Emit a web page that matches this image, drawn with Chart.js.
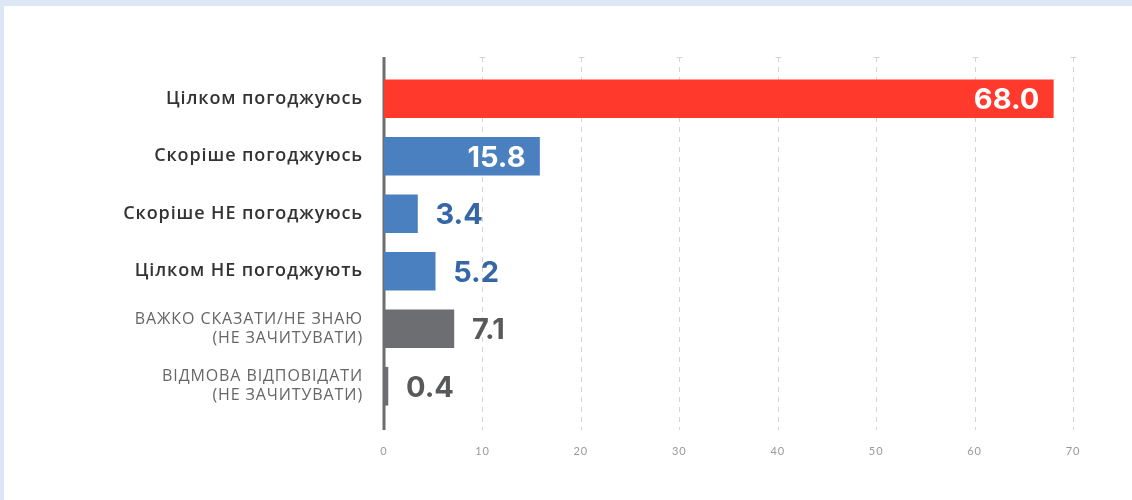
<!DOCTYPE html>
<html>
<head>
<meta charset="utf-8">
<script src="https://cdn.jsdelivr.net/npm/chart.js@4"></script>
<style>
  html, body { margin: 0; padding: 0; }
  body { width: 1132px; height: 500px; background: #dde6f4; position: relative; overflow: hidden; }
  .panel { position: absolute; left: 4px; top: 6px; width: 1140px; height: 510px; background: #fff; }
  .wrap { position: absolute; left: 0; top: 0; width: 1132px; height: 500px; }
</style>
</head>
<body>
<div class="panel"></div>
<div class="wrap"><canvas id="chart"></canvas></div>
<script>
// --- DATA ---
const categories = [
    'Цілком погоджуюсь',
    'Скоріше погоджуюсь',
    'Скоріше НЕ погоджуюсь',
    'Цілком НЕ погоджують',
    ['ВАЖКО СКАЗАТИ/НЕ ЗНАЮ', '(НЕ ЗАЧИТУВАТИ)'],
    ['ВІДМОВА ВІДПОВІДАТИ', '(НЕ ЗАЧИТУВАТИ)']
];
const values = [68.0, 15.8, 3.4, 5.2, 7.1, 0.4];
const barColors = ['#ff3a2d', '#4a80c0', '#4a80c0', '#4a80c0', '#6d6e71', '#6d6e71'];
const valueColors = ['#ffffff', '#ffffff', '#3566a6', '#3566a6', '#58595b', '#58595b'];
const insideLabel = [true, true, false, false, false, false];
const xTicks = [0, 10, 20, 30, 40, 50, 60, 70];

// --- PLUGINS ---
// a little extra letter spacing for the category labels (drawn with the scales)
const spacingPlugin = {
    id: 'labelSpacing',
    beforeDraw(chart) { chart.ctx.letterSpacing = '0.9px'; },
    beforeDatasetsDraw(chart) { chart.ctx.letterSpacing = '0px'; }
};

// dashed grid lines + axis line, a bit longer than the chart area
const gridPlugin = {
    id: 'gridLines',
    beforeDatasetsDraw(chart) {
        const { ctx, chartArea, scales } = chart;
        const top = chartArea.top - 13;
        const bottom = chartArea.bottom + 15;
        ctx.save();
        xTicks.forEach(v => {
            if (v === 0) return;
            const x = Math.round(scales.x.getPixelForValue(v)) + 0.5;
            ctx.strokeStyle = '#d4d4d4';
            ctx.lineWidth = 1;
            ctx.setLineDash([5, 5]);
            ctx.beginPath();
            ctx.moveTo(x, top);
            ctx.lineTo(x, bottom);
            ctx.stroke();
            ctx.setLineDash([]);
            ctx.beginPath();
            ctx.moveTo(x - 3, top + 0.5);
            ctx.lineTo(x + 3, top + 0.5);
            ctx.stroke();
        });
        const x0 = scales.x.getPixelForValue(0);
        ctx.strokeStyle = '#6d6e71';
        ctx.lineWidth = 3;
        ctx.beginPath();
        ctx.moveTo(x0, top);
        ctx.lineTo(x0, bottom);
        ctx.stroke();
        ctx.restore();
    }
};

const valuePlugin = {
    id: 'valueLabels',
    afterDatasetsDraw(chart) {
        const { ctx } = chart;
        const meta = chart.getDatasetMeta(0);
        ctx.save();
        ctx.letterSpacing = '0px';
        ctx.font = '700 29px Inter, "Open Sans", sans-serif';
        ctx.textBaseline = 'middle';
        meta.data.forEach((bar, i) => {
            const txt = values[i].toFixed(1);
            ctx.fillStyle = valueColors[i];
            if (insideLabel[i]) {
                ctx.textAlign = 'right';
                ctx.fillText(txt, bar.x - 14, bar.y + 2);
            } else {
                ctx.textAlign = 'left';
                ctx.fillText(txt, bar.x + 18, bar.y + 2);
            }
        });
        ctx.restore();
    }
};

// --- CHART ---
new Chart(document.getElementById('chart'), {
    type: 'bar',
    data: {
        labels: categories,
        datasets: [{
            data: values,
            backgroundColor: barColors,
            barThickness: 38,
            borderWidth: 0
        }]
    },
    options: {
        indexAxis: 'y',
        responsive: true,
        maintainAspectRatio: false,
        animation: false,
        layout: { padding: { top: 70, right: 59, bottom: 40, left: 0 } },
        plugins: { legend: { display: false }, tooltip: { enabled: false } },
        scales: {
            x: {
                min: 0,
                max: 70,
                afterBuildTicks: scale => { scale.ticks = xTicks.map(v => ({ value: v })); },
                afterFit: scale => { scale.height = 45; },
                grid: { display: false, drawTicks: false },
                border: { display: false },
                ticks: {
                    padding: 30,
                    color: '#999999',
                    font: { family: 'Lato, "Open Sans", sans-serif', size: 11 }
                }
            },
            y: {
                afterFit: scale => { scale.width = 384; },
                grid: { display: false, drawTicks: false },
                border: { display: false },
                ticks: {
                    padding: 21,
                    color: ctx => ctx.index >= 4 ? '#666666' : '#333333',
                    font: ctx => ctx.index >= 4
                        ? { family: '"Open Sans", sans-serif', size: 16, weight: '400', lineHeight: 1.2 }
                        : { family: '"Open Sans", sans-serif', size: 18, weight: '600' }
                }
            }
        }
    },
    plugins: [spacingPlugin, gridPlugin, valuePlugin]
});
</script>
</body>
</html>
